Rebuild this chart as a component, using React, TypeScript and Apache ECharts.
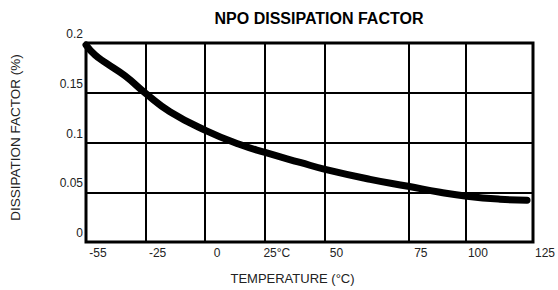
import React, { useEffect, useRef } from "react";
import * as echarts from "echarts";

// Curve: temperature (°C) vs dissipation factor (%)
const temps = [-55, -51.4, -47, -39.3, -30.8, -21.2, -6.7, 7, 17.1, 31.2, 41.3, 59.4, 74.7, 87.6, 98.4, 111.7, 122.6];
const dissipation = [0.198, 0.188, 0.18, 0.167, 0.149, 0.131, 0.112, 0.098, 0.09, 0.08, 0.073, 0.063, 0.056, 0.05, 0.046, 0.043, 0.042];

// Vertical grid lines / tick positions as they sit on the (linear) temperature scale of the sheet
const xTickValues = [-55, -31, -7, 17, 41, 75, 98, 125];
const xTickLabels = ["-55", "-25", "0", "25°C", "50", "75", "100", "125"];
const xInnerLines = [-31, -7, 17, 41, 75, 98];

const FONT = "'Liberation Sans', Arial, Helvetica, sans-serif";

export default function App() {
  const ref = useRef<HTMLDivElement>(null);
  useEffect(() => {
    if (!ref.current) return;
    const chart = echarts.init(ref.current, undefined, { renderer: "svg" });
    chart.setOption({
      animation: false,
      backgroundColor: "#ffffff",
      title: {
        text: "NPO DISSIPATION FACTOR",
        left: 314,
        top: 5,
        textAlign: "center",
        textStyle: { fontFamily: FONT, fontSize: 16, fontWeight: "bold", color: "#000" },
      },
      grid: {
        left: 86,
        right: 25,
        top: 43,
        bottom: 48,
        show: true,
        borderColor: "#000",
        borderWidth: 3,
        backgroundColor: "transparent",
        outerBoundsMode: "none",
      },
      xAxis: {
        type: "value",
        min: -55,
        max: 125,
        name: "TEMPERATURE (°C)",
        nameLocation: "middle",
        nameGap: 30,
        nameTextStyle: { fontFamily: FONT, fontSize: 13, color: "#222", padding: [0, 34, 0, 0] },
        axisLine: { show: false },
        axisTick: { show: false },
        splitLine: { show: false },
        axisLabel: {
          customValues: xTickValues,
          formatter: (v: number) => {
            const i = xTickValues.indexOf(v);
            return i >= 0 ? xTickLabels[i] : "";
          },
          fontFamily: FONT,
          fontSize: 12,
          color: "#222",
          margin: 5,
          align: "center",
          padding: [0, 0, 0, 24],
          showMinLabel: true,
          showMaxLabel: true,
        },
      },
      yAxis: {
        type: "value",
        min: 0,
        max: 0.2,
        interval: 0.05,
        name: "DISSIPATION FACTOR (%)",
        nameLocation: "middle",
        nameGap: 64,
        nameRotate: 90,
        nameTextStyle: { fontFamily: FONT, fontSize: 13.5, color: "#222", padding: [0, 0, 0, 10] },
        axisLine: { show: false },
        axisTick: { show: false },
        splitLine: { show: true, lineStyle: { color: "#000", width: 2 } },
        axisLabel: {
          fontFamily: FONT,
          fontSize: 12,
          color: "#222",
          margin: 3,
          verticalAlign: "bottom",
          padding: [0, 0, 3, 0],
        },
      },
      series: [
        {
          type: "line",
          data: temps.map((t, i) => [t, dissipation[i]]),
          smooth: true,
          showSymbol: false,
          symbol: "none",
          silent: true,
          lineStyle: { color: "#000", width: 7, cap: "round", join: "round" },
          markLine: {
            silent: true,
            symbol: "none",
            label: { show: false },
            lineStyle: { color: "#000", width: 2, type: "solid" },
            data: xInnerLines.map((v) => ({ xAxis: v })),
          },
          z: 3,
        },
      ],
    });
    return () => chart.dispose();
  }, []);
  return (
    <div
      ref={ref}
      style={{ position: "fixed", left: 0, top: 0, width: 558, height: 290 }}
    />
  );
}
